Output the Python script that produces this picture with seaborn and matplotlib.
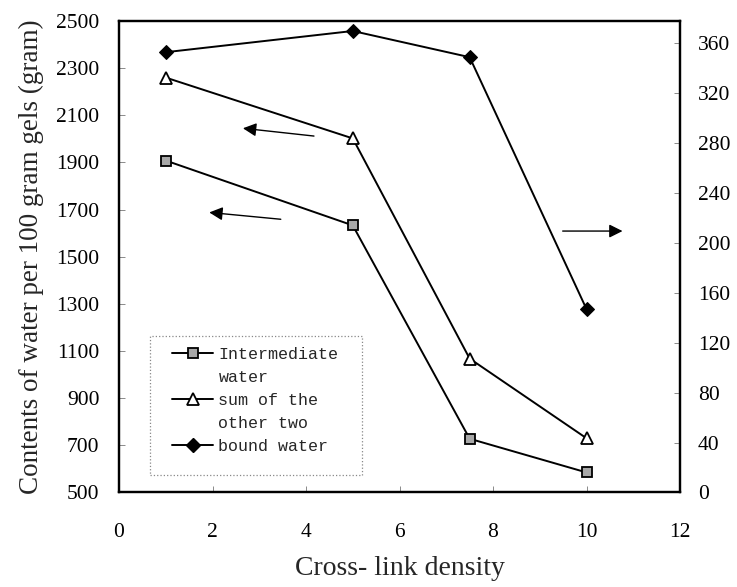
import matplotlib
matplotlib.use("Agg")
import matplotlib.pyplot as plt
from matplotlib.lines import Line2D
from matplotlib.patches import Rectangle
import seaborn as sns
import pandas as pd

# ---- data ----
crosslink = [1, 5, 7.5, 10]
intermediate_water = [1908, 1633, 728, 585]
sum_other_two = [2260, 2002, 1068, 730]
bound_water = [353, 370, 349, 147]

left_ticks = [500, 700, 900, 1100, 1300, 1500, 1700, 1900, 2100, 2300, 2500]
right_ticks = [0, 40, 80, 120, 160, 200, 240, 280, 320, 360]
x_ticks = [0, 2, 4, 6, 8, 10, 12]
legend_labels = ["Intermediate", "water", "sum of the", "other two", "bound water"]

df = pd.DataFrame({
    "x": crosslink,
    "inter": intermediate_water,
    "sum": sum_other_two,
    "bound": bound_water,
})

sns.set_style("ticks")
plt.rcParams["font.family"] = ["Liberation Serif", "DejaVu Serif"]

fig = plt.figure(figsize=(7.37, 5.87), dpi=100)
ax = fig.add_axes([0.1615, 0.161, 0.7612, 0.8032])
ax2 = ax.twinx()

lw = 1.4
sq_kw = dict(marker="s", markersize=7.5, markerfacecolor="#a8a8a8",
             markeredgecolor="black", markeredgewidth=1.3)
tri_kw = dict(marker="^", markersize=9, markerfacecolor="white",
              markeredgecolor="black", markeredgewidth=1.3)
dia_kw = dict(marker="D", markersize=7, markerfacecolor="black",
              markeredgecolor="black")

sns.lineplot(data=df, x="x", y="inter", ax=ax, color="black", linewidth=lw,
             legend=False, **sq_kw)
sns.lineplot(data=df, x="x", y="sum", ax=ax, color="black", linewidth=lw,
             legend=False, **tri_kw)
sns.lineplot(data=df, x="x", y="bound", ax=ax2, color="black", linewidth=lw,
             legend=False, **dia_kw)

ax.set_xlim(0, 12)
ax.set_ylim(500, 2500)
ax2.set_ylim(0, 378)
ax.set_xticks(x_ticks)
ax.set_yticks(left_ticks)
ax2.set_yticks(right_ticks)

for a in (ax, ax2):
    for s in a.spines.values():
        s.set_color("black")
        s.set_linewidth(1.6)
    a.tick_params(direction="in", length=4, width=0.6, color="#777777",
                  labelsize=15.5, labelcolor="black")

ax.tick_params(axis="x", pad=22)
ax.tick_params(axis="y", pad=14)
ax2.tick_params(axis="y", pad=13)

ax.set_xlabel("Cross- link density", fontsize=20, labelpad=10)
ax.set_ylabel("Contents of water per 100 gram gels (gram)", fontsize=19.5, labelpad=9)
ax2.set_ylabel("")

# arrows pointing to the relevant axis
arrow_kw = dict(arrowstyle="-|>", color="black", lw=1.0, mutation_scale=20,
                shrinkA=0, shrinkB=0)
ax.annotate("", xy=(2.65, 2045), xytext=(4.17, 2012), arrowprops=arrow_kw)
ax.annotate("", xy=(1.93, 1688), xytext=(3.46, 1659), arrowprops=arrow_kw)
ax.annotate("", xy=(10.77, 1609), xytext=(9.49, 1609), arrowprops=arrow_kw)

# legend box (dotted frame)
ax.add_patch(Rectangle((0.0553, 0.037), 0.3777, 0.295, transform=ax.transAxes,
                       fill=True, facecolor="white", edgecolor="#888888",
                       linestyle=":", linewidth=0.9, zorder=4))

h_inter = Line2D([], [], color="black", linewidth=lw, **sq_kw)
h_sum = Line2D([], [], color="black", linewidth=lw, **tri_kw)
h_bound = Line2D([], [], color="black", linewidth=lw, **dia_kw)
blank = Line2D([], [], linestyle="none", marker=None)
leg = ax.legend([h_inter, blank, h_sum, blank, h_bound], legend_labels,
                loc="upper left", bbox_to_anchor=(0.094, 0.3095),
                prop={"family": ["Liberation Mono", "DejaVu Sans Mono"], "size": 12},
                handlelength=2.5, handletextpad=0.3, labelspacing=0.48,
                borderpad=0, borderaxespad=0, frameon=False)
leg.set_zorder(5)

fig.savefig("out.png", dpi=100)
